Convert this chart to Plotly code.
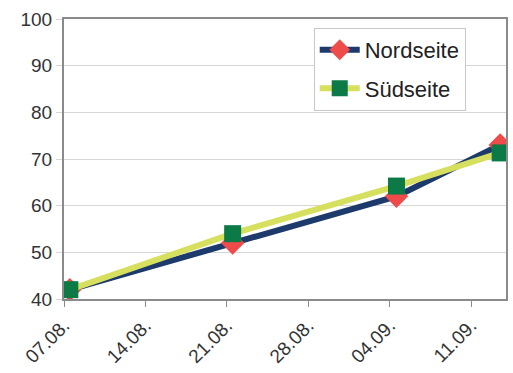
import plotly.graph_objects as go

dates = ["2010-08-07 12:00", "2010-08-21 12:00", "2010-09-04 14:00", "2010-09-13 12:00"]
nordseite = [42, 52, 62, 73]
suedseite = [42, 54, 64.2, 71.3]
tick_dates = ["2010-08-07", "2010-08-14", "2010-08-21", "2010-08-28", "2010-09-04", "2010-09-11"]
tick_labels = ["07.08.", "14.08.", "21.08.", "28.08.", "04.09.", "11.09."]
y_ticks = [40, 50, 60, 70, 80, 90, 100]

fig = go.Figure()
fig.add_trace(go.Scatter(
    x=dates, y=nordseite, name="Nordseite", mode="lines+markers", legendgroup="n",
    line=dict(color="#1c3a6b", width=6),
    marker=dict(symbol="diamond", size=18, color="#f04b4b"),
))
fig.add_trace(go.Scatter(
    x=dates, y=suedseite, name="Südseite", mode="lines+markers", legendgroup="s",
    line=dict(color="#d7df5e", width=6),
    marker=dict(symbol="square", size=17, color="#0b7a46"),
))

fig.update_layout(
    width=513, height=373,
    margin=dict(l=64, r=5, t=19, b=74),
    paper_bgcolor="white", plot_bgcolor="white",
    font=dict(family="Liberation Sans, Arial, sans-serif", size=19, color="#333333"),
    showlegend=True,
    legend=dict(
        x=0.565, y=0.968, xanchor="left", yanchor="top",
        bgcolor="white", bordercolor="#c8c8c8", borderwidth=1,
        font=dict(size=22, color="#222222"),
        itemwidth=40, tracegroupgap=7, traceorder="grouped",
        entrywidth=172, entrywidthmode="pixels",
    ),
)
fig.update_xaxes(
    type="date", range=["2010-08-07", "2010-09-14"],
    tickvals=tick_dates, ticktext=tick_labels, tickangle=-45,
    showgrid=False, showline=True, linecolor="#8a8a8a", linewidth=2, mirror=True,
    ticks="outside", ticklen=6, tickcolor="#8a8a8a",
)
fig.update_yaxes(
    range=[40, 100], tickvals=y_ticks,
    showgrid=True, gridcolor="#d6d6d6", gridwidth=1,
    showline=True, linecolor="#8a8a8a", linewidth=2, mirror=True,
    ticks="outside", ticklen=6, tickcolor="#d6d6d6", zeroline=False,
)

fig.write_html("out.html")
